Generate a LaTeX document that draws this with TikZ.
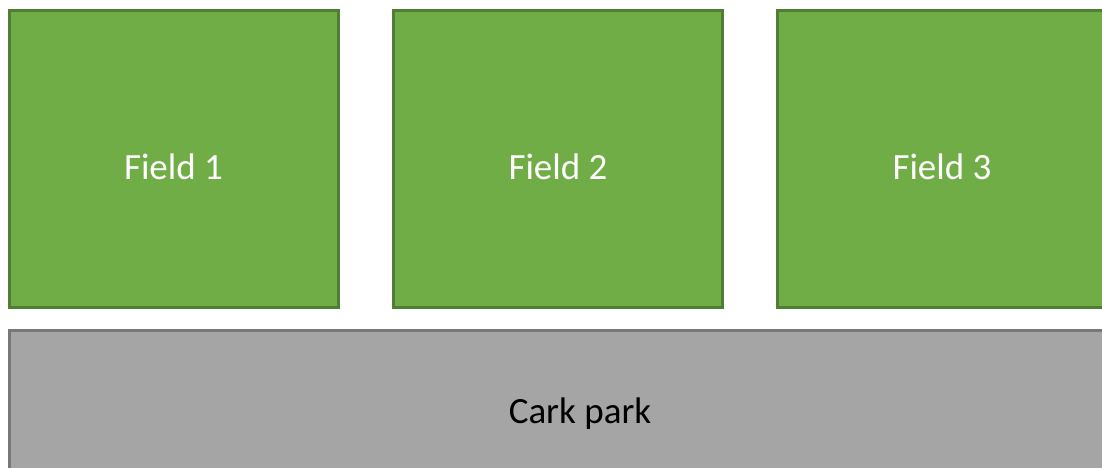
\documentclass[tikz,border=0pt]{standalone}
\usepackage{fontspec}
\setmainfont{Carlito}
\definecolor{fieldfill}{HTML}{70AD47}
\definecolor{fieldline}{HTML}{507E32}
\definecolor{parkfill}{HTML}{A5A5A5}
\definecolor{parkline}{HTML}{787878}
\begin{document}
\begin{tikzpicture}[x=1pt,y=-1pt,
  fieldbox/.style={fill=fieldfill,draw=fieldline,line width=2.5pt},
  parkbox/.style={fill=parkfill,draw=parkline,line width=2.5pt},
  lbl/.style={anchor=base,inner sep=0pt,font=\fontsize{37}{44}\selectfont}]
\useasboundingbox (0,0) rectangle (1102,468);
\begin{scope}
\clip (0,0) rectangle (1102,468);
\draw[fieldbox] (9.5,10.5) rectangle (338.5,307.5);
\draw[fieldbox] (393.5,10.5) rectangle (722.5,307.5);
\draw[fieldbox] (777.5,10.5) rectangle (1110,307.5);
\draw[parkbox] (9.5,330.5) rectangle (1150,480);
\end{scope}
\node[lbl,text=white] (f1) at (173.5,179) {Field 1};
\node[lbl,text=white] (f2) at (558,179) {Field 2};
\node[lbl,text=white] (f3) at (942,179) {Field 3};
\node[lbl,text=black] (cp) at (580,423) {Cark park};
\end{tikzpicture}
\end{document}
